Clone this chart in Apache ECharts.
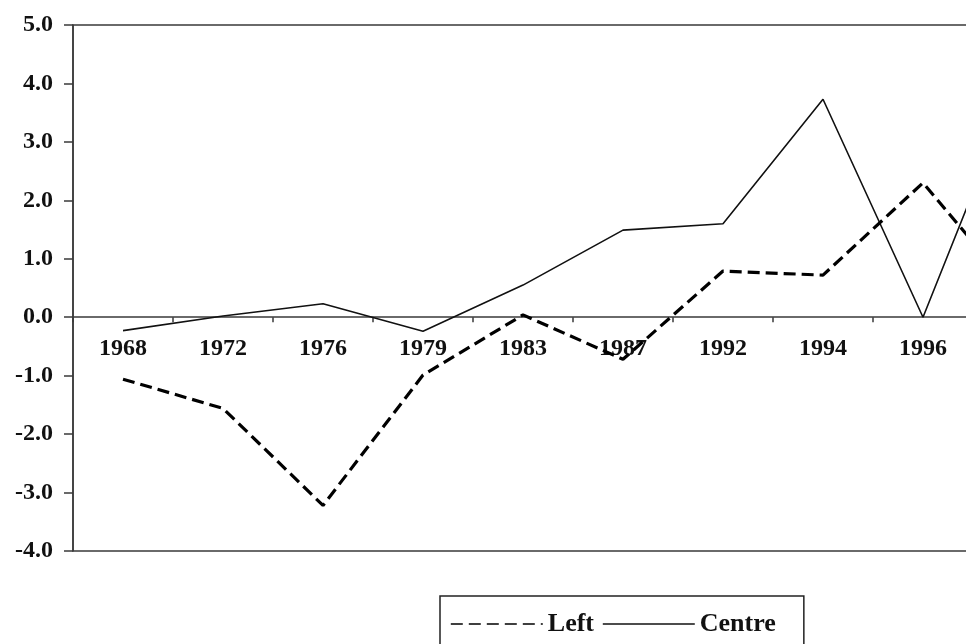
<!DOCTYPE html>
<html>
<head>
<meta charset="utf-8">
<title>Left / Centre</title>
<script src="https://cdn.jsdelivr.net/npm/echarts@6/dist/echarts.min.js"></script>
<style>
    html, body { margin: 0; padding: 0; background: #fff; overflow: hidden; width: 966px; height: 644px; }
    /* the original figure is cut off on the right, so the chart is wider than the window */
    #chart { width: 1100px; height: 644px; }
</style>
</head>
<body>
<div id="chart"></div>
<script>
// categories (the last one is cut off by the frame in the original)
var years = ['1968', '1972', '1976', '1979', '1983', '1987', '1992', '1994', '1996', '1998'];
// series values
var leftData = [-1.06, -1.56, -3.22, -0.99, 0.04, -0.72, 0.79, 0.72, 2.30, 0.27];
var centreData = [-0.23, 0.02, 0.23, -0.24, 0.55, 1.49, 1.60, 3.73, 0.00, 4.28];
// y axis ticks
var yMin = -4;
var yMax = 5;
var yStep = 1;

var serif = "'Liberation Serif', 'Times New Roman', serif";
var axisColor = '#3a3a3a';

var gridTop = 25;
var gridHeight = 526;
// move the category axis up to the zero line
var zeroShift = gridHeight * (yMax - 0) / (yMax - yMin) - gridHeight;

var chart = echarts.init(document.getElementById('chart'));
var option = {
    backgroundColor: '#fff',
    animation: false,
    grid: {
        left: 73,
        top: gridTop,
        height: gridHeight,
        right: 27,
        show: true,
        borderColor: axisColor,
        borderWidth: 1.5,
        containLabel: false
    },
    legend: {
        left: 440,
        top: 596,
        orient: 'horizontal',
        itemWidth: 92,
        itemHeight: 14,
        itemGap: 8,
        padding: [15, 28, 20, 10],
        borderColor: '#222',
        borderWidth: 1.5,
        lineStyle: { width: 1.6 },
        itemStyle: { opacity: 0 },
        textStyle: {
            fontFamily: serif,
            fontWeight: 'bold',
            fontSize: 26,
            color: '#111'
        },
        data: ['Left', 'Centre']
    },
    xAxis: {
        type: 'category',
        data: years,
        boundaryGap: true,
        position: 'bottom',
        offset: zeroShift,
        axisLine: { onZero: false, lineStyle: { color: axisColor, width: 1.5 } },
        axisTick: { show: true, length: 5, alignWithLabel: false, lineStyle: { color: axisColor, width: 1.5 } },
        axisLabel: {
            interval: 0,
            margin: 20,
            fontFamily: serif,
            fontWeight: 'bold',
            fontSize: 24,
            color: '#111'
        },
        splitLine: { show: false }
    },
    yAxis: {
        type: 'value',
        min: yMin,
        max: yMax,
        interval: yStep,
        axisLine: { show: true, lineStyle: { color: axisColor, width: 1.5 } },
        axisTick: { show: true, length: 9, inside: false, lineStyle: { color: axisColor, width: 1.5 } },
        axisLabel: {
            margin: 20,
            fontFamily: serif,
            fontWeight: 'bold',
            fontSize: 24,
            color: '#111',
            formatter: function (v) { return v.toFixed(1); }
        },
        splitLine: { show: false }
    },
    series: [
        {
            name: 'Left',
            type: 'line',
            data: leftData,
            symbol: 'none',
            showSymbol: false,
            z: 3,
            lineStyle: { color: '#000', width: 3.2, type: [12, 6] },
            itemStyle: { color: '#000' }
        },
        {
            name: 'Centre',
            type: 'line',
            data: centreData,
            symbol: 'none',
            showSymbol: false,
            z: 2,
            lineStyle: { color: '#111', width: 1.6, type: 'solid' },
            itemStyle: { color: '#111' }
        }
    ]
};
chart.setOption(option);
</script>
</body>
</html>
